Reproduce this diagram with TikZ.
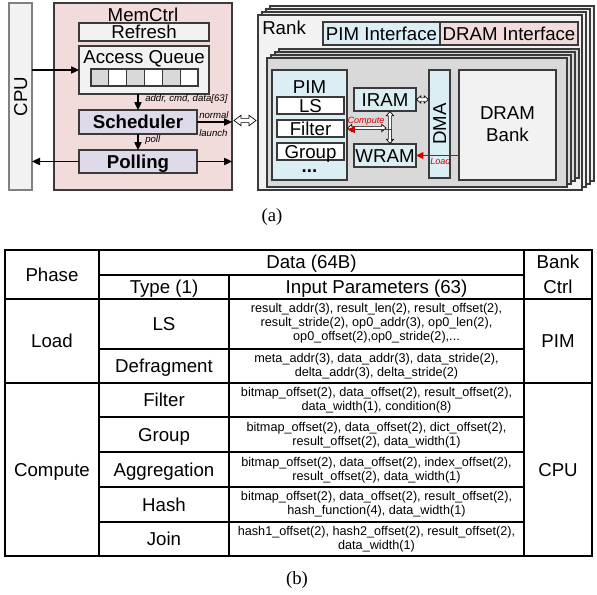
\documentclass[tikz,border=0pt]{standalone}
\usepackage{fontspec}
\setmainfont{Liberation Sans}
\newfontfamily\capfont{Liberation Serif}
\usetikzlibrary{arrows.meta,calc}
\definecolor{pinkc}{HTML}{F2DCDB}
\definecolor{bluec}{HTML}{DBEEF4}
\definecolor{lavc}{HTML}{DFDAEA}
\definecolor{ltgray}{HTML}{F2F2F2}
\definecolor{mdgray}{HTML}{D9D9D9}
\definecolor{bordc}{HTML}{3A3A3A}
\definecolor{redc}{HTML}{D40000}
\newcommand\mkbox[7]{\node[#6,minimum width={((#4)-(#2))*0.75pt},minimum height={((#5)-(#3))*0.75pt}] (#1) at ({((#2)+(#4))/2},{((#3)+(#5))/2}) {#7};}
% hollow double arrow, horizontal: start (left), end (right), head length, head half-height, shaft half-width
\newcommand\hharrow[5]{\draw[hollowst] let \p1=(#1),\p2=(#2) in (\x1,\y1) -- (\x1+#3,\y1+#4) -- (\x1+#3,\y1+#5) -- (\x2-#3,\y1+#5) -- (\x2-#3,\y1+#4) -- (\x2,\y1) -- (\x2-#3,\y1-#4) -- (\x2-#3,\y1-#5) -- (\x1+#3,\y1-#5) -- (\x1+#3,\y1-#4) -- cycle;}
% vertical: start (top), end (bottom)
\newcommand\vvarrow[5]{\draw[hollowst] let \p1=(#1),\p2=(#2) in (\x1,\y1) -- (\x1+#4,\y1-#3) -- (\x1+#5,\y1-#3) -- (\x1+#5,\y2+#3) -- (\x1+#4,\y2+#3) -- (\x1,\y2) -- (\x1-#4,\y2+#3) -- (\x1-#5,\y2+#3) -- (\x1-#5,\y1-#3) -- (\x1-#4,\y1-#3) -- cycle;}
\begin{document}
\begin{tikzpicture}[x=0.75pt,y=-0.75pt,
  bx/.style={draw=bordc,line width=0.8pt,inner sep=0pt,outer sep=0pt},
  big/.style={font=\fontsize{14}{16.5}\selectfont},
  capc/.style={text height=10pt,text depth=0pt},
  small/.style={font=\fontsize{7.2}{8}\selectfont\itshape,inner sep=0pt},
  redlbl/.style={font=\fontsize{6.8}{8}\selectfont\itshape,text=redc,inner sep=0pt},
  arr/.style={line width=0.9pt,-{Triangle[length=6pt,width=5.5pt]}},
  redarr/.style={draw=redc,line width=1pt,-{Triangle[length=5.5pt,width=5pt]}},
  hollowst/.style={draw=black,line width=0.5pt,fill=white,line join=miter},
  tline/.style={line width=0.8pt,draw=black},
  tt/.style={font=\fontsize{14}{16.5}\selectfont,text height=10pt,text depth=0pt,inner sep=0pt},
  pp/.style={font=\fontsize{9.5}{10.3}\selectfont,align=center,inner sep=0pt},
  captxt/.style={font=\capfont\fontsize{14}{16}\selectfont,inner sep=0pt}
]
\useasboundingbox (0,0) rectangle (597,594);

% ---------- (a) left part ----------
\mkbox{cpu}{9}{3}{32}{190}{bx,fill=ltgray,draw=gray}{}
\node[big,capc,rotate=90,inner sep=0pt] (cputxt) at (cpu.center) {CPU};

\mkbox{mc}{54}{3}{232}{190}{bx,fill=pinkc}{}
\node[big,capc,inner sep=0pt] (mctitle) at (143,15) {MemCtrl};
\mkbox{refresh}{79}{23}{209}{41}{bx,fill=ltgray,big,capc}{Refresh}
\mkbox{aq}{79}{46}{209}{94}{bx,fill=ltgray}{}
\node[big,anchor=base,inner sep=0pt] (aqtxt) at (144,63) {Access Queue};
\draw[bx,fill=mdgray] (91,69) rectangle (108.8,86);
\draw[bx,fill=white] (108.8,69) rectangle (126.7,86);
\draw[bx,fill=mdgray] (126.7,69) rectangle (144.5,86);
\draw[bx,fill=white] (144.5,69) rectangle (162.3,86);
\draw[bx,fill=mdgray] (162.3,69) rectangle (180.2,86);
\draw[bx,fill=white] (180.2,69) rectangle (198,86);

\mkbox{sched}{79}{110}{197}{134}{bx,fill=lavc,big,capc,font=\fontsize{14}{16.5}\selectfont\bfseries}{Scheduler}
\mkbox{poll}{79}{150}{197}{173}{bx,fill=lavc,big,capc,font=\fontsize{14}{16.5}\selectfont\bfseries}{Polling}

\draw[arr] (cpu.east |- aq.west) -- (aq.west);
\draw[arr] (aq.south -| sched.north) -- (sched.north);
\draw[arr] (sched.south) -- (poll.north);
\draw[arr] (sched.east) -- (sched.east -| mc.east);
\draw[arr] (poll.west) -- (poll.west -| cpu.east);
\draw[arr] (poll.east) -- (poll.east -| mc.east);

\node[small,anchor=west] (lbladdr) at (145,99) {addr, cmd, data[63]};
\node[small,anchor=west] (lblnorm) at (199,115) {normal};
\node[small,anchor=west] (lbllaun) at (199,133) {launch};
\node[small,anchor=west] (lblpoll) at (145,140) {poll};

% ---------- (a) right part ----------
\foreach \k in {3,2,1}
  \draw[bx,fill=ltgray] ({258+4*\k},{15-3*\k}) rectangle ({582+4*\k},{190-3*\k});
\mkbox{rank}{258}{15}{582}{190}{bx,fill=ltgray}{}
\node[big,anchor=base west,inner sep=0pt] (ranktxt) at (262,34) {Rank};
\mkbox{pimif}{323}{22}{440}{45}{bx,fill=bluec,big,capc}{PIM Interface}
\mkbox{dramif}{440}{22}{578}{45}{bx,fill=pinkc,big,capc}{DRAM Interface}

\foreach \k in {3,2,1}
  \draw[bx,fill=mdgray] ({267+4*\k},{58-3*\k}) rectangle ({567+4*\k},{187-3*\k});
\mkbox{bank}{267}{58}{567}{187}{bx,fill=mdgray}{}

\mkbox{pim}{272}{70}{347}{180}{bx,fill=bluec}{}
\node[big,anchor=base,inner sep=0pt] (pimtxt) at (309.5,93) {PIM};
\mkbox{ls}{277}{97}{344}{114}{bx,fill=white,big,capc}{LS}
\mkbox{filter}{277}{120}{344}{137}{bx,fill=white,big,capc}{Filter}
\mkbox{group}{277}{143}{344}{160}{bx,fill=white,big,capc}{Group}
\node[big,anchor=base,inner sep=0pt] (dots) at (309.5,172) {\textbf{...}};

\mkbox{iram}{354}{88}{416}{111}{bx,fill=bluec,big,capc}{IRAM}
\mkbox{wram}{354}{144}{416}{167}{bx,fill=bluec,big,capc}{WRAM}
\mkbox{dma}{429}{70}{450}{178}{bx,fill=bluec}{}
\node[big,capc,rotate=90,inner sep=0pt] (dmatxt) at (dma.center) {DMA};
\mkbox{dram}{459}{70}{556}{180}{bx,fill=ltgray}{}
\node[big,align=center,inner sep=0pt] (dramtxt) at (507.5,124.5) {DRAM\\Bank};

% hollow double arrows
\hharrow{$(mc.east |- sched.east)+(2,-1.5)$}{$(rank.west |- sched.east)+(-2,-1.5)$}{5.2pt}{3.9pt}{1.6pt}
\hharrow{$(iram.east)+(0.5,0)$}{$(iram.east -| dma.west)+(-0.5,0)$}{3.2pt}{2.7pt}{1.2pt}
\vvarrow{$(iram.south)+(5,0.5)$}{$(wram.north)+(5,-0.5)$}{3.2pt}{2.7pt}{1.2pt}
\coordinate (cj) at (386,128);
\hharrow{$(pim.east |- filter.east)+(0.5,-0.5)$}{cj}{3.2pt}{2.7pt}{1.2pt}

% red data paths
\draw[redarr] ($(wram.north)+(6.5,0)$) |- ($(pim.east |- filter.east)+(0.5,1)$);
\draw[redarr] (dram.west |- wram.east) -- (wram.east);
\node[redlbl,anchor=base] (lblcomp) at (366,123) {Compute};
\node[redlbl,anchor=base west] (lblload) at (430,164) {Load};

\node[captxt,anchor=base] (capa) at (272,221) {(a)};

% ---------- (b) table ----------
\draw[tline] (5,250) rectangle (592,556);
\draw[tline] (99,275) -- (524,275);
\draw[tline] (5,299) -- (592,299);
\draw[tline] (99,349) -- (524,349);
\draw[tline] (5,383) -- (592,383);
\foreach \yy in {417,452,487,522} \draw[tline] (99,\yy) -- (524,\yy);
\draw[tline] (99,250) -- (99,556);
\draw[tline] (229,275) -- (229,556);
\draw[tline] (524,250) -- (524,556);

\node[tt] (hphase) at (52,275) {Phase};
\node[tt] (hdata) at (311.5,262) {Data (64B)};
\node[tt] (hbank) at (558,262) {Bank};
\node[tt] (hctrl) at (558,287) {Ctrl};
\node[tt] (htype) at (164,287) {Type (1)};
\node[tt] (hinput) at (376.5,287) {Input Parameters (63)};

\node[tt] (pload) at (52,341) {Load};
\node[tt] (pcomp) at (52,470) {Compute};
\node[tt] (bpim) at (558,341) {PIM};
\node[tt] (bcpu) at (558,470) {CPU};

\node[tt] (tls) at (164,324) {LS};
\node[tt] (tdef) at (164,366) {Defragment};
\node[tt] (tfil) at (164,400) {Filter};
\node[tt] (tgrp) at (164,435) {Group};
\node[tt] (tagg) at (164,470) {Aggregation};
\node[tt] (thash) at (164,504.5) {Hash};
\node[tt] (tjoin) at (164,539) {Join};

\node[pp] (pls) at (376.5,323) {result\_addr(3), result\_len(2), result\_offset(2),\\ result\_stride(2), op0\_addr(3), op0\_len(2),\\ op0\_offset(2),op0\_stride(2),...};
\node[pp] (pdef) at (376.5,366) {meta\_addr(3), data\_addr(3), data\_stride(2),\\ delta\_addr(3), delta\_stride(2)};
\node[pp] (pfil) at (376.5,400) {bitmap\_offset(2), data\_offset(2), result\_offset(2),\\ data\_width(1), condition(8)};
\node[pp] (pgrp) at (376.5,435) {bitmap\_offset(2), data\_offset(2), dict\_offset(2),\\ result\_offset(2), data\_width(1)};
\node[pp] (pagg) at (376.5,470) {bitmap\_offset(2), data\_offset(2), index\_offset(2),\\ result\_offset(2), data\_width(1)};
\node[pp] (phash) at (376.5,504.5) {bitmap\_offset(2), data\_offset(2), result\_offset(2),\\ hash\_function(4), data\_width(1)};
\node[pp] (pjoin) at (376.5,539) {hash1\_offset(2), hash2\_offset(2), result\_offset(2),\\ data\_width(1)};

\node[captxt,anchor=base] (capb) at (297,584) {(b)};
\end{tikzpicture}
\end{document}
